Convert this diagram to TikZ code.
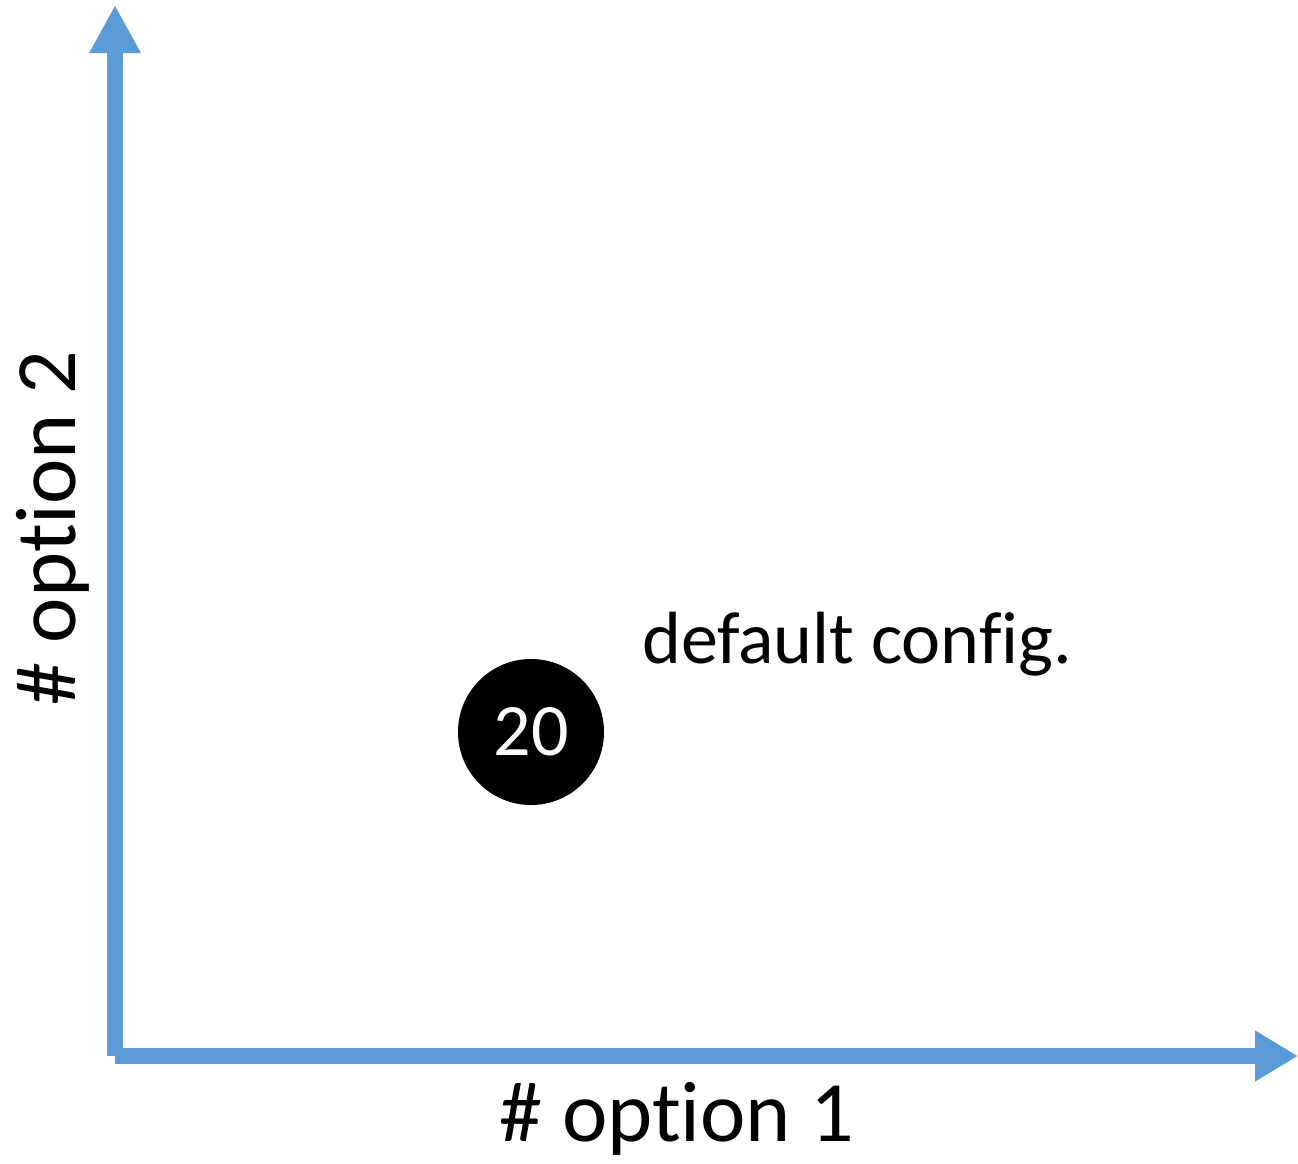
\documentclass[tikz,border=0pt]{standalone}
\usepackage{fontspec}
\setmainfont{Carlito}[Ligatures={NoCommon,NoContextual,NoRare}]
\usetikzlibrary{arrows.meta}
\definecolor{axisblue}{HTML}{5B9BD5}
% \nolig keeps letter pairs such as t-i and f-i apart
\newcommand{\nolig}{\kern0pt}
\tikzset{
  axisline/.style={draw=axisblue, line width=16pt, line cap=butt},
  axislabel/.style={inner sep=0pt, font=\fontsize{86}{98}\selectfont},
  configlabel/.style={inner sep=0pt, font=\fontsize{74}{86}\selectfont},
  confdot/.style={circle, fill=black, text=white, inner sep=0pt,
    minimum size=146pt, font=\fontsize{74}{86}\selectfont},
}
\begin{document}
\begin{tikzpicture}[x=1pt, y=-1pt]
  \useasboundingbox (0,0) rectangle (1298,1163);
  % axes
  \coordinate (origin) at (115,1056);
  \coordinate (ytip) at (115,5);
  \coordinate (xtip) at (1298,1056);
  \draw[axisline, -{Triangle[length=48pt, width=48pt]}] (origin) -- (ytip);
  \draw[axisline, -{Triangle[length=43pt, width=48pt]}] (origin) -- (xtip);
  % axis labels
  \node[axislabel, anchor=base] (xlabel) at (677,1141) {\# opt\nolig ion 1};
  \node[axislabel, anchor=base, rotate=90] (ylabel) at (75,528) {\# opt\nolig ion 2};
  % default configuration point
  \node[confdot] (dflt) at (531,732) {20};
  \node[configlabel, anchor=base west] (dfltlabel) at (642,663) {default conf\nolig ig.};
\end{tikzpicture}
\end{document}
